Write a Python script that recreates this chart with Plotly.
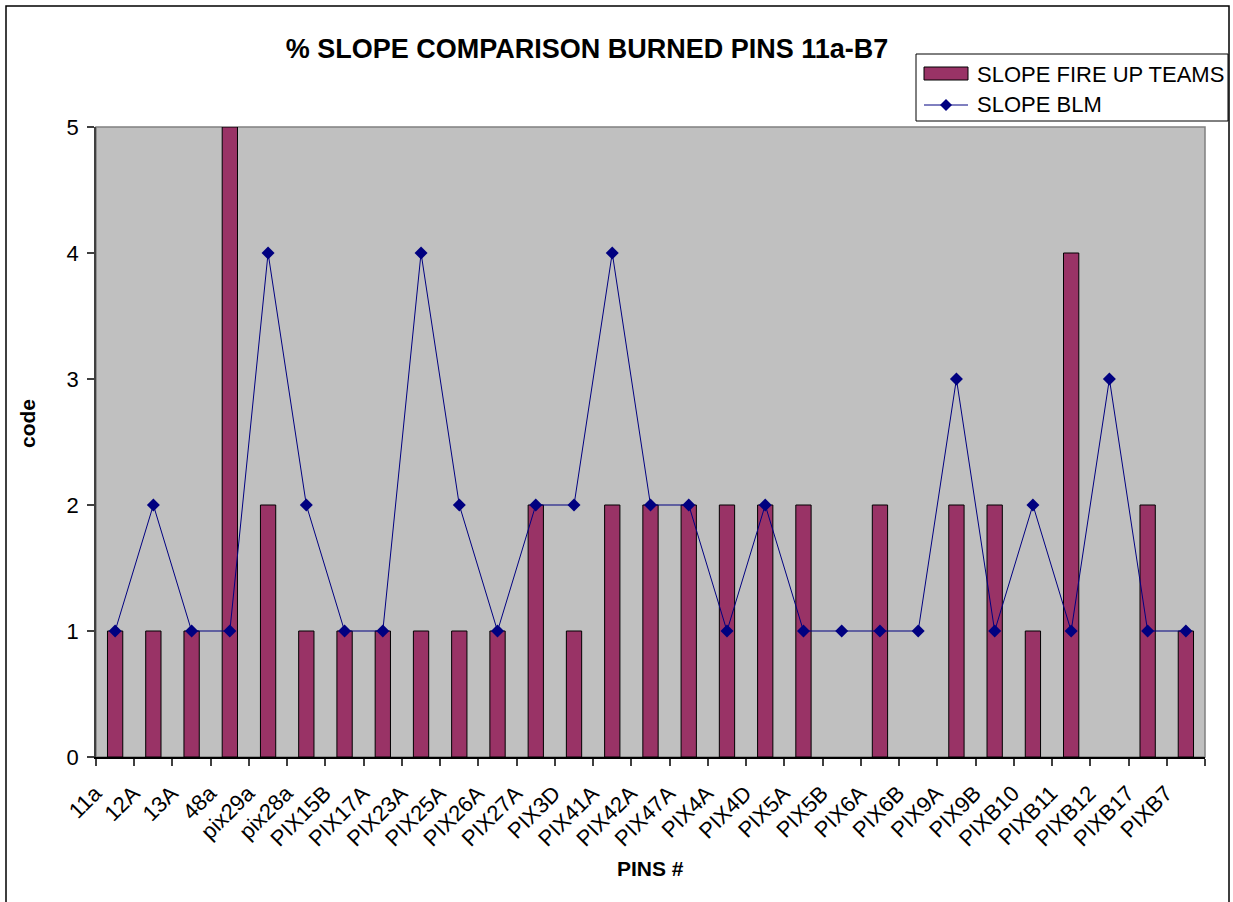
import plotly.graph_objects as go

pins = ["11a", "12A", "13A", "48a", "pix29a", "pix28a", "PIX15B", "PIX17A",
        "PIX23A", "PIX25A", "PIX26A", "PIX27A", "PIX3D", "PIX41A", "PIX42A",
        "PIX47A", "PIX4A", "PIX4D", "PIX5A", "PIX5B", "PIX6A", "PIX6B",
        "PIX9A", "PIX9B", "PIXB10", "PIXB11", "PIXB12", "PIXB17", "PIXB7"]

slope_fire_up = [1, 1, 1, 5, 2, 1, 1, 1, 1, 1, 1, 2, 1, 2, 2, 2, 2, 2, 2,
                 None, 2, None, 2, 2, 1, 4, None, 2, 1]

slope_blm = [1, 2, 1, 1, 4, 2, 1, 1, 4, 2, 1, 2, 2, 4, 2, 2, 1, 2, 1, 1,
             1, 1, 3, 1, 2, 1, 3, 1, 1]

y_ticks = [0, 1, 2, 3, 4, 5]

FONT = "Liberation Sans, Arial, sans-serif"
BAR_COLOR = "#993366"
LINE_COLOR = "#000080"

# plot area in pixels
L, R, T, B = 96, 28, 127, 145
W, H = 1233, 902
PW, PH = W - L - R, H - T - B


def px(x):
    return (x - L) / PW


def py(y):
    return (H - B - y) / PH


fig = go.Figure()

fig.add_trace(go.Bar(
    x=pins, y=slope_fire_up, name="SLOPE FIRE UP TEAMS",
    marker=dict(color=BAR_COLOR, line=dict(color="black", width=1)),
))

fig.add_trace(go.Scatter(
    x=pins, y=slope_blm, name="SLOPE BLM", mode="lines+markers",
    line=dict(color=LINE_COLOR, width=1),
    marker=dict(symbol="diamond", size=10, color=LINE_COLOR),
))

shapes = [
    # chart frame
    dict(type="rect", xref="paper", yref="paper", x0=px(6), x1=px(1229),
         y0=py(6), y1=py(910), line=dict(color="black", width=1.5)),
    # legend box
    dict(type="rect", xref="paper", yref="paper", x0=px(916), x1=px(1228),
         y0=py(54), y1=py(121), fillcolor="white",
         line=dict(color="black", width=1)),
    dict(type="rect", xref="paper", yref="paper", x0=px(924), x1=px(968),
         y0=py(67), y1=py(80), fillcolor=BAR_COLOR,
         line=dict(color="black", width=1)),
    dict(type="line", xref="paper", yref="paper", x0=px(924), x1=px(968),
         y0=py(105), y1=py(105), line=dict(color=LINE_COLOR, width=1)),
    dict(type="path", xref="paper", yref="paper",
         path=f"M {px(946)} {py(99)} L {px(952)} {py(105)} L {px(946)} {py(111)} "
              f"L {px(940)} {py(105)} Z",
         fillcolor=LINE_COLOR, line=dict(color=LINE_COLOR, width=0)),
]

annotations = [
    dict(text="SLOPE FIRE UP TEAMS", xref="paper", yref="paper", x=px(975),
         y=py(74), xanchor="left", yanchor="middle", showarrow=False,
         font=dict(family=FONT, size=22, color="black")),
    dict(text="SLOPE BLM", xref="paper", yref="paper", x=px(975),
         y=py(105), xanchor="left", yanchor="middle", showarrow=False,
         font=dict(family=FONT, size=22, color="black")),
    dict(text="<b>PINS #</b>", xref="paper", yref="paper", x=0.5, y=py(868),
         xanchor="center", yanchor="middle", showarrow=False,
         font=dict(family=FONT, size=21, color="black")),
    dict(text="<b>code</b>", xref="paper", yref="paper", x=px(27), y=py(424),
         xanchor="center", yanchor="middle", showarrow=False, textangle=-90,
         font=dict(family=FONT, size=21, color="black")),
]

fig.update_layout(
    width=W, height=H,
    margin=dict(l=L, r=R, t=T, b=B),
    paper_bgcolor="white",
    plot_bgcolor="#C0C0C0",
    showlegend=False,
    bargap=0.6,
    title=dict(text="<b>% SLOPE COMPARISON BURNED PINS 11a-B7</b>",
               x=587 / W, xanchor="center", y=1 - 49 / H, yanchor="middle",
               font=dict(family=FONT, size=27, color="black")),
    font=dict(family=FONT, size=20, color="black"),
    shapes=shapes,
    annotations=annotations,
)

fig.update_xaxes(
    range=[-0.5, len(pins) - 0.5],
    tickangle=-45, tickson="boundaries", ticks="outside", ticklen=7,
    tickwidth=1.5, tickcolor="#404040",
    showline=True, linecolor="black", linewidth=1.5,
    mirror=False, showgrid=False, ticklabelshift=-20, ticklabelstandoff=13,
    tickfont=dict(family=FONT, size=22, color="black"),
)

fig.update_yaxes(
    range=[0, 5], tickvals=y_ticks, ticks="outside", ticklen=7,
    tickwidth=1.5, tickcolor="#404040",
    showline=True, linecolor="#404040", linewidth=1.5,
    showgrid=False, zeroline=False, ticklabelstandoff=4,
    tickfont=dict(family=FONT, size=22, color="black"),
)

# gray border on top/right of plot area
fig.add_shape(type="rect", xref="paper", yref="paper", x0=0, x1=1, y0=0, y1=1,
              line=dict(color="#808080", width=1.5), layer="below")

fig.write_html("out.html", config={"displayModeBar": False},
               post_script="document.body.style.margin='0';")
